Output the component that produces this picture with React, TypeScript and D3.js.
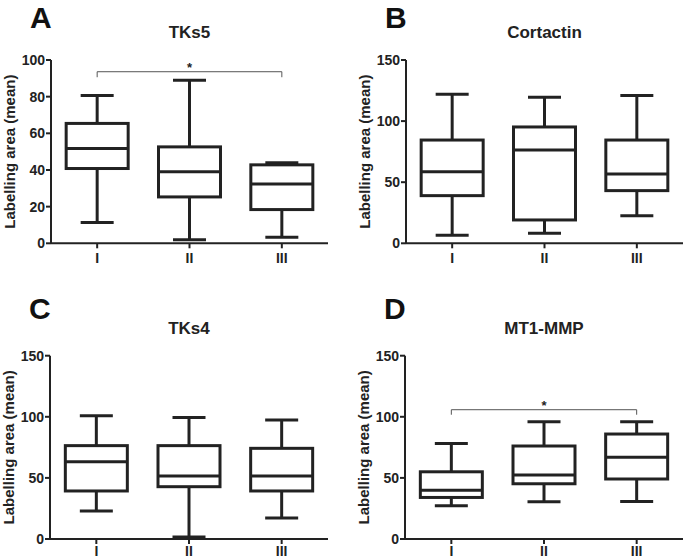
import React from "react";
import * as d3 from "d3";

const groups = ["I", "II", "III"];
// [min, q1, median, q3, max]
const tks5 = [
  [11.3, 40.8, 51.7, 65.4, 80.7],
  [2, 25.3, 39, 52.6, 89],
  [3.3, 18.4, 32.4, 42.8, 43.9],
];
const cortactin = [
  [6.5, 39, 58.6, 84.5, 121.9],
  [8.2, 19.1, 76.4, 95.2, 119.5],
  [22.6, 43.1, 56.7, 84.5, 121],
];
const tks4 = [
  [22.9, 39.3, 63.3, 76.4, 100.9],
  [1.6, 42.8, 51.5, 76.4, 99.5],
  [17.2, 39.3, 51.5, 74.2, 97.4],
];
const mt1mmp = [
  [27.2, 34, 39.8, 55, 78.2],
  [30.5, 45.2, 52.4, 76.1, 96],
  [30.7, 49.1, 66.8, 85.9, 96],
];
const ticksA = [0, 20, 40, 60, 80, 100];
const ticks150 = [0, 50, 100, 150];
const panelLetters = ["A", "B", "C", "D"];
const panelTitles = ["TKs5", "Cortactin", "TKs4", "MT1-MMP"];
const yLabel = "Labelling area (mean)";
// significance brackets
const sigA = { from: "I", to: "III", y: 93.6, end: 90.6, label: "*" };
const sigD = { from: "I", to: "III", y: 105.8, end: 101.7, label: "*" };

const FONT = "'Liberation Sans', Arial, Helvetica, sans-serif";
const INK = "#222";
const W = 685;
const H = 559;

type Sig = { from: string; to: string; y: number; end: number; label: string };

function Panel(props: {
  x0: number;
  x1: number;
  yTop: number;
  yBottom: number;
  yMax: number;
  ticks: number[];
  data: number[][];
  letter: string;
  title: string;
  sig?: Sig;
}) {
  const { x0, x1, yTop, yBottom, yMax, ticks, data, letter, title, sig } = props;
  const x = d3.scaleBand<string>().domain(groups).range([x0, x1]).padding(0);
  const y = d3.scaleLinear().domain([0, yMax]).range([yBottom, yTop]);
  const cx = (g: string) => (x(g) as number) + x.bandwidth() / 2;
  const boxW = 62;
  const capW = 33;
  const letterSize = 30;
  const letterBase = Math.max(yTop - 37, letterSize * 0.92);
  const xLabelSize = 14;
  const xLabelBase = Math.min(y(0) + 19.5, H - xLabelSize * 0.22);
  return (
    <g>
      <text x={x0 - 21} y={letterBase} fontSize={letterSize} fontWeight="bold" fill="#111" fontFamily={FONT}>
        {letter}
      </text>
      <text
        x={(x0 + x1) / 2}
        y={yTop - 22}
        fontSize={17}
        fontWeight="bold"
        fill={INK}
        textAnchor="middle"
        fontFamily={FONT}
      >
        {title}
      </text>
      <text
        transform={`translate(${x0 - 36.5},${(yTop + yBottom) / 2}) rotate(-90)`}
        fontSize={15}
        fontWeight="bold"
        fill={INK}
        textAnchor="middle"
        fontFamily={FONT}
      >
        {yLabel}
      </text>
      {/* y axis */}
      <line x1={x0} x2={x0} y1={y(0)} y2={y(yMax)} stroke={INK} strokeWidth={2} />
      {ticks.map((t) => (
        <g key={t}>
          <line x1={x0 - 5} x2={x0} y1={y(t)} y2={y(t)} stroke={INK} strokeWidth={2} />
          <text
            x={x0 - 6}
            y={y(t)}
            dy="0.36em"
            textAnchor="end"
            fontSize={14}
            fontWeight="bold"
            fill={INK}
            fontFamily={FONT}
          >
            {t}
          </text>
        </g>
      ))}
      {/* x axis */}
      <line x1={x0} x2={x1} y1={y(0)} y2={y(0)} stroke={INK} strokeWidth={2} />
      {groups.map((g) => (
        <g key={g}>
          <line x1={cx(g)} x2={cx(g)} y1={y(0)} y2={y(0) + 5} stroke={INK} strokeWidth={2} />
          <text
            x={cx(g)}
            y={xLabelBase}
            textAnchor="middle"
            fontSize={xLabelSize}
            fontWeight="bold"
            fill={INK}
            fontFamily={FONT}
          >
            {g}
          </text>
        </g>
      ))}
      {/* boxes */}
      {groups.map((g, i) => {
        const [mn, q1, md, q3, mx] = data[i];
        const c = cx(g);
        return (
          <g key={g} stroke={INK} strokeWidth={3} fill="none">
            <line x1={c} x2={c} y1={y(mx)} y2={y(q3)} />
            <line x1={c} x2={c} y1={y(q1)} y2={y(mn)} />
            <line x1={c - capW / 2} x2={c + capW / 2} y1={y(mx)} y2={y(mx)} />
            <line x1={c - capW / 2} x2={c + capW / 2} y1={y(mn)} y2={y(mn)} />
            <rect x={c - boxW / 2} y={y(q3)} width={boxW} height={y(q1) - y(q3)} fill="white" />
            <line x1={c - boxW / 2} x2={c + boxW / 2} y1={y(md)} y2={y(md)} />
          </g>
        );
      })}
      {sig && (
        <g>
          <path
            d={`M${cx(sig.from)},${y(sig.end)}V${y(sig.y)}H${cx(sig.to)}V${y(sig.end)}`}
            fill="none"
            stroke="#555"
            strokeWidth={1}
          />
          <text
            x={(cx(sig.from) + cx(sig.to)) / 2}
            y={y(sig.y) + 0.5}
            textAnchor="middle"
            fontSize={13}
            fontWeight="bold"
            fill={INK}
            fontFamily={FONT}
          >
            {sig.label}
          </text>
        </g>
      )}
    </g>
  );
}

export default function App() {
  return (
    <svg
      width={W}
      height={H}
      style={{ position: "absolute", left: 0, top: 0, background: "white" }}
    >
      <rect width={W} height={H} fill="white" />
      <Panel x0={51} x1={328} yTop={60} yBottom={243.3} yMax={100} ticks={ticksA} data={tks5} letter={panelLetters[0]} title={panelTitles[0]} sig={sigA} />
      <Panel x0={406} x1={683} yTop={60} yBottom={243.3} yMax={150} ticks={ticks150} data={cortactin} letter={panelLetters[1]} title={panelTitles[1]} />
      <Panel x0={50} x1={328} yTop={355.7} yBottom={539} yMax={150} ticks={ticks150} data={tks4} letter={panelLetters[2]} title={panelTitles[2]} />
      <Panel x0={405} x1={683} yTop={355.7} yBottom={539} yMax={150} ticks={ticks150} data={mt1mmp} letter={panelLetters[3]} title={panelTitles[3]} sig={sigD} />
    </svg>
  );
}
